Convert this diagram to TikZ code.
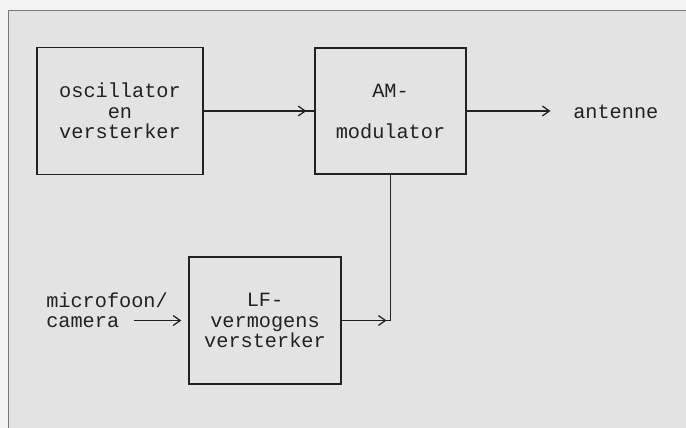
\documentclass[tikz,border=0pt]{standalone}
\usepackage{fontspec}
\setmainfont{Liberation Mono}
\usetikzlibrary{arrows.meta,decorations.markings}
\definecolor{bgGray}{HTML}{E3E3E3}
\definecolor{pgWhite}{HTML}{F3F3F3}
\definecolor{frameGray}{HTML}{7A7A7A}
\definecolor{ink}{HTML}{222222}

\begin{document}
\begin{tikzpicture}[x=0.025cm,y=-0.025cm,
          font=\fontsize{14.4}{14.6}\selectfont,text=ink,
          blk/.style={draw=ink,line width=0.9pt,align=center,inner sep=0},
          lbl/.style={inner sep=0,anchor=west,text height=7pt,text depth=1pt},
          ln/.style={color=ink,line width=0.9pt},
          chev/.style={-{Straight Barb[length=5pt,width=7pt]}},
          tipat/.style={postaction={decorate},decoration={markings,
            mark=at position #1 with {\arrow{Straight Barb[length=5pt,width=7pt]}}}}]
        \useasboundingbox (0,0) rectangle (686,428);
        \fill[pgWhite] (0,0) rectangle (686,428);
        \fill[bgGray] (8.5,10.5) rectangle (686,428);
        \draw[frameGray,line width=1.3pt] (8.5,428) -- (8.5,10.5) -- (686,10.5);

        \node[blk,minimum width=4.15cm,minimum height=3.175cm] (osc) at (120,111) {oscillator\\en\\versterker};
        \node[blk,minimum width=3.775cm,minimum height=3.15cm] (am) at (390.5,111) {AM-\\[14.6pt]modulator};
        \node[blk,minimum width=3.8cm,minimum height=3.175cm] (lf) at (265,320.5) {LF-\\vermogens\\versterker};
        \node[lbl] (ant) at (573,114) {antenne};
        \node[lbl] (mic) at (46,303) {microfoon/};
        \node[lbl] (cam) at (46,323) {camera};
        \coordinate (knee) at (am.south |- lf.east);

        \draw[ln,tipat=-5.7pt] (osc) -- (am);
        \draw[ln,chev,shorten >=16pt] (am.east) -- (am.east -| ant.west);
        \draw[ln,tipat=-2.8pt] (lf) -- (knee);
        \draw[ln] (knee) -- (am);
        \draw[ln,chev,shorten <=10pt,shorten >=5pt] (cam.east |- lf.east) -- (lf.west);
      \end{tikzpicture}
\end{document}
